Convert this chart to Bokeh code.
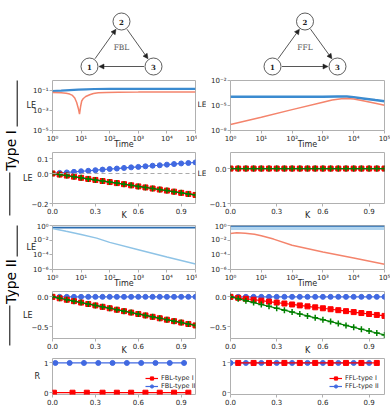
from math import pi
import numpy as np
from bokeh.plotting import figure
from bokeh.layouts import row, column
from bokeh.models import (Range1d, FixedTicker, CustomJSTickFormatter, Arrow,
                          NormalHead, Legend, LegendItem, Span)
from bokeh.embed import file_html
from bokeh.resources import INLINE
from bokeh.core.properties import value

# ---------------- data ----------------
# network motifs
node_x = [-1.0, 0.0, 1.0]
node_y = [0.0, 1.0, 0.0]
node_labels = ["1", "2", "3"]
fbl_edges = [(0, 1), (1, 2), (2, 0)]
ffl_edges = [(0, 1), (1, 2), (0, 2)]
motif_names = ["FBL", "FFL"]

# Type I : LE vs time
t_fbl1_blue = [1, 2, 4, 8, 15, 30, 100, 1e3, 1e4, 1e5]
le_fbl1_blue = [0.089, 0.095, 0.107, 0.120, 0.132, 0.141, 0.145, 0.145, 0.145, 0.145]
t_fbl1_red = [1, 2, 3, 4, 5, 6, 7, 8, 8.8, 9.6, 10.5, 12, 14.5, 20, 27, 40, 75, 200, 1e3, 1e4, 1e5]
le_fbl1_red = [0.063, 0.059, 0.052, 0.044, 0.032, 0.018, 0.0063, 0.0016, 0.00043, 0.0025, 0.0089,
               0.016, 0.025, 0.038, 0.050, 0.058, 0.063, 0.068, 0.069, 0.071, 0.071]
t_ffl1_blue = [1, 10, 100, 1e3, 3e3, 6e3, 1e4, 2e4, 5e4, 1e5]
le_ffl1_blue = [1.1e-4, 1.1e-4, 1.1e-4, 1.12e-4, 1.2e-4, 1.17e-4, 1.0e-4, 7.1e-5, 4.5e-5, 3.2e-5]
t_ffl1_red = [1, 10, 100, 1e3, 2e3, 4e3, 6e3, 1e4, 2e4, 5e4, 1e5]
le_ffl1_red = [5.2e-8, 4.0e-7, 3.2e-6, 2.5e-5, 4.5e-5, 6.6e-5, 7.1e-5, 6.0e-5, 3.8e-5, 1.9e-5, 1.07e-5]

# Type II : LE vs time
t_fbl2_dark = [1, 1e5]
le_fbl2_dark = [0.52, 0.52]
t_fbl2_light = [1, 3, 10, 35, 100, 1e3, 1e4, 1e5]
le_fbl2_light = [0.40, 0.16, 0.060, 0.019, 5.0e-3, 5.0e-4, 5.0e-5, 5.8e-6]
t_ffl2_dark = [1, 1e5]
le_ffl2_dark = [0.83, 0.83]
t_ffl2_band = [1, 1e5]
le_ffl2_band = [0.45, 0.45]
t_ffl2_red = [1, 1.6, 3, 6, 10, 25, 100, 1e3, 1e4, 1e5]
le_ffl2_red = [0.079, 0.10, 0.089, 0.063, 0.040, 0.014, 2.0e-3, 2.5e-4, 3.8e-5, 5.2e-6]

# LE vs coupling K
K = [0.0, 0.05, 0.1, 0.15, 0.2, 0.25, 0.3, 0.35, 0.4, 0.45, 0.5,
     0.55, 0.6, 0.65, 0.7, 0.75, 0.8, 0.85, 0.9, 0.95, 1.0]
zeros21 = [0.0] * 21
fbl1_blue = [0.0, 0.004, 0.007, 0.011, 0.015, 0.018, 0.022, 0.026, 0.030, 0.033, 0.037,
             0.041, 0.044, 0.048, 0.052, 0.055, 0.059, 0.063, 0.067, 0.070, 0.074]
fbl1_red = [0.0, -0.007, -0.014, -0.021, -0.029, -0.036, -0.043, -0.050, -0.057, -0.064, -0.071,
            -0.079, -0.086, -0.093, -0.100, -0.107, -0.114, -0.121, -0.129, -0.136, -0.143]
fbl1_green = fbl1_red
ffl1_blue = zeros21
ffl1_red = zeros21
ffl1_green = zeros21
fbl2_blue = zeros21
fbl2_red = [0.0, -0.024, -0.048, -0.072, -0.096, -0.120, -0.144, -0.168, -0.192, -0.216, -0.240,
            -0.264, -0.288, -0.312, -0.336, -0.360, -0.384, -0.408, -0.432, -0.456, -0.480]
fbl2_green = fbl2_red
ffl2_blue = zeros21
ffl2_red = [0.0, -0.016, -0.032, -0.048, -0.064, -0.080, -0.096, -0.112, -0.128, -0.144, -0.160,
            -0.176, -0.192, -0.208, -0.224, -0.240, -0.256, -0.272, -0.288, -0.304, -0.320]
ffl2_green = [0.0, -0.032, -0.064, -0.096, -0.128, -0.160, -0.192, -0.224, -0.256, -0.288, -0.320,
              -0.352, -0.384, -0.416, -0.448, -0.480, -0.512, -0.544, -0.576, -0.608, -0.640]

# R vs K
kr_fbl_red = [0.01, 0.14, 0.24, 0.35, 0.45, 0.55, 0.65, 0.75, 0.85, 0.95]
r_fbl_red = [0] * 10
kr_fbl_blue = [0.02, 0.12, 0.22, 0.32, 0.42, 0.52, 0.62, 0.72, 0.82, 0.92]
r_fbl_blue = [1] * 10
kr_ffl_red = [0.05, 0.15, 0.25, 0.35, 0.45, 0.55, 0.65, 0.75, 0.85, 0.95]
r_ffl_red = [1] * 10
kr_ffl_blue = [0.0, 0.1, 0.2, 0.3, 0.4, 0.5, 0.6, 0.7, 0.8, 0.9]
r_ffl_blue = [1] * 10

time_ticks = [1, 10, 100, 1e3, 1e4, 1e5]
k_ticks = [0.0, 0.3, 0.6, 0.9]
group_names = ["Type I", "Type II"]

# ---------------- style ----------------
FONT = "DejaVu Sans"
SPINE = "#b0b0b0"
TXT = "#262626"
C_BLUE = "#3b8bd0"
C_SALMON = "#f4846c"
C_DARK = "#2a6cb0"
C_LIGHT = "#8ec3e6"
C_BAND = "#b0d4ef"
M_BLUE = "#4169e1"
M_RED = "#ff0000"
M_GREEN = "#008000"

LOG_FMT = CustomJSTickFormatter(code="""
const m = {"-":"\u207b","0":"\u2070","1":"\u00b9","2":"\u00b2","3":"\u00b3","4":"\u2074",
           "5":"\u2075","6":"\u2076","7":"\u2077","8":"\u2078","9":"\u2079"};
const e = Math.round(Math.log10(tick));
return "10" + String(e).split("").map(c => m[c]).join("");
""")
LIN_FMT = CustomJSTickFormatter(code='return tick.toFixed(1).replace("-", "\u2212");')
INT_FMT = CustomJSTickFormatter(code='return tick.toFixed(0);')


def panel(w, h, bl, br, bt, bb, xr, yr, xlog, ylog, xticks, yticks, xfmt, yfmt,
          xlabel=None, ylabel=None, ystand=0):
    p = figure(width=w, height=h, output_backend="svg", toolbar_location=None,
               x_axis_type="log" if xlog else "linear",
               y_axis_type="log" if ylog else "linear",
               x_range=Range1d(*xr), y_range=Range1d(*yr),
               min_border_left=bl, min_border_right=br,
               min_border_top=bt, min_border_bottom=bb)
    p.xgrid.visible = False
    p.ygrid.visible = False
    p.outline_line_color = SPINE
    p.outline_line_width = 1
    for ax, ticks, fmt in ((p.xaxis[0], xticks, xfmt), (p.yaxis[0], yticks, yfmt)):
        ax.ticker = FixedTicker(ticks=ticks, minor_ticks=[])
        ax.formatter = fmt
        ax.axis_line_color = None
        ax.major_tick_line_color = SPINE
        ax.minor_tick_line_color = None
        ax.major_tick_in = 0
        ax.major_tick_out = 3
        ax.major_label_standoff = 1
        ax.major_label_text_font = FONT
        ax.major_label_text_font_size = "7px"
        ax.major_label_text_color = TXT
        ax.axis_label_text_font = FONT
        ax.axis_label_text_font_size = "8px"
        ax.axis_label_text_font_style = "normal"
        ax.axis_label_text_color = TXT
    if xlabel:
        p.xaxis[0].axis_label = xlabel
        p.xaxis[0].axis_label_standoff = -6
    if ylabel:
        p.yaxis[0].axis_label = ylabel
        p.yaxis[0].axis_label_orientation = "horizontal"
        p.yaxis[0].axis_label_standoff = ystand
    return p


def k_series(p, ks, blue, red, green):
    p.line(ks, blue, line_color=M_BLUE, line_width=1.2)
    p.scatter(ks, blue, marker="circle", size=5, fill_color=M_BLUE, line_color=M_BLUE)
    p.line(ks, red, line_color=M_RED, line_width=1.2)
    p.scatter(ks, red, marker="square", size=5, fill_color=M_RED, line_color=M_RED)
    p.line(ks, green, line_color=M_GREEN, line_width=1.2)
    p.scatter(ks, green, marker="cross", size=6, line_color=M_GREEN, line_width=1.5)


# layout sizes (pixels)
SW = 19                    # strip with the Type labels
GW = 9                     # gutter holding the right-hand "LE" labels
LW, RW = 178, 184          # left / right plot columns
LOG_BL, LIN_BL, L_BR = 24, 28, 2
R_BL, R_BR = 21, 6
PH = 331                   # height of the plot block
T_RANGE = (1, 1e5)
K_RANGE = (0, 1)

# ---------------- diagrams ----------------
def diagram(w, x0, x1, edges, name, pxu):
    p = figure(width=w, height=76, output_backend="svg", toolbar_location=None,
               x_range=Range1d(x0, x1), y_range=Range1d(-0.2222, 1.4667), min_border=0,
               x_axis_location=None, y_axis_location=None)
    p.grid.visible = False
    p.outline_line_color = None
    pyu = 45.0
    r = 9.5
    for a, b in edges:
        dx = (node_x[b] - node_x[a]) * pxu
        dy = (node_y[b] - node_y[a]) * pyu
        f = r / np.hypot(dx, dy)
        xs = node_x[a] + (node_x[b] - node_x[a]) * f
        ys = node_y[a] + (node_y[b] - node_y[a]) * f
        xe = node_x[b] - (node_x[b] - node_x[a]) * f
        ye = node_y[b] - (node_y[b] - node_y[a]) * f
        p.add_layout(Arrow(end=NormalHead(size=5, fill_color="#222222", line_color="#222222",
                                          line_width=0.5),
                           x_start=xs, y_start=ys, x_end=xe, y_end=ye,
                           line_color="#444444", line_width=0.9))
    p.scatter(node_x, node_y, marker="circle", size=17, fill_color="white",
              line_color="#333333", line_width=0.8)
    p.text(node_x, node_y, text=node_labels, text_font=value("DejaVu Serif"),
           text_font_style="bold", text_font_size="7px", text_align="center",
           text_baseline="middle", text_color="#222222")
    p.text([0.0], [0.42], text=[name], text_font=value("DejaVu Serif"),
           text_font_size="7.5px", text_align="center", text_baseline="middle",
           text_color="#555555")
    return p


dl = diagram(SW + LW, -3.781, 2.375, fbl_edges, motif_names[0], 32.0)
dr = diagram(GW + RW, -3.308, 2.631, ffl_edges, motif_names[1], 32.5)

# ---------------- row A : Type I, LE vs time ----------------
aL = panel(LW, 75, LOG_BL, L_BR, 4, 15, T_RANGE, (1e-5, 1.0), True, True,
           time_ticks, [1e-5, 1e-3, 1e-1], LOG_FMT, LOG_FMT, "Time", "LE", -6)
aL.line(t_fbl1_blue, le_fbl1_blue, line_color=C_BLUE, line_width=2.2)
aL.line(t_fbl1_red, le_fbl1_red, line_color=C_SALMON, line_width=1.5)

aR = panel(RW, 75, R_BL, R_BR, 4, 15, T_RANGE, (1e-8, 1e-2), True, True,
           time_ticks, [1e-8, 1e-5, 1e-2], LOG_FMT, LOG_FMT, "Time")
aR.line(t_ffl1_blue, le_ffl1_blue, line_color=C_BLUE, line_width=2.5)
aR.line(t_ffl1_red, le_ffl1_red, line_color=C_SALMON, line_width=1.5)

# ---------------- row B : Type I, LE vs K ----------------
bL = panel(LW, 71, LIN_BL, L_BR, 1, 16, K_RANGE, (-0.2, 0.14), False, False,
           k_ticks, [-0.2, 0.0, 0.1], LIN_FMT, LIN_FMT, "K", "LE", -4)
bL.add_layout(Span(location=0, dimension="width", line_color="#aaaaaa",
                   line_dash="4 3", line_width=1))
k_series(bL, K, fbl1_blue, fbl1_red, fbl1_green)

bR = panel(RW, 71, R_BL, R_BR, 1, 16, K_RANGE, (-0.1, 0.046), False, False,
           k_ticks, [-0.1, 0.0], LIN_FMT, LIN_FMT, "K")
k_series(bR, K, ffl1_blue, ffl1_red, ffl1_green)

# ---------------- row C : Type II, LE vs time ----------------
cL = panel(LW, 68, LOG_BL, L_BR, 3, 16, T_RANGE, (1e-6, 1.0), True, True,
           time_ticks, [1e-6, 1e-4, 1e-2, 1.0], LOG_FMT, LOG_FMT, "Time", "LE", -6)
cL.line(t_fbl2_dark, le_fbl2_dark, line_color=C_DARK, line_width=1.6)
cL.line(t_fbl2_light, le_fbl2_light, line_color=C_LIGHT, line_width=1.5)

cR = panel(RW, 68, R_BL, R_BR, 3, 16, T_RANGE, (1e-6, 1.0), True, True,
           time_ticks, [1e-6, 1e-4, 1e-2, 1.0], LOG_FMT, LOG_FMT, "Time")
cR.line(t_ffl2_band, le_ffl2_band, line_color=C_BAND, line_width=4)
cR.line(t_ffl2_dark, le_ffl2_dark, line_color=C_DARK, line_width=1.4)
cR.line(t_ffl2_red, le_ffl2_red, line_color=C_SALMON, line_width=1.5)

# ---------------- row D : Type II, LE vs K ----------------
dL = panel(LW, 67, LIN_BL, L_BR, 1, 16, K_RANGE, (-0.7, 0.09), False, False,
           k_ticks, [-0.5, 0.0], LIN_FMT, LIN_FMT, "K", "LE", -4)
k_series(dL, K, fbl2_blue, fbl2_red, fbl2_green)

dR = panel(RW, 67, R_BL, R_BR, 1, 16, K_RANGE, (-0.7, 0.09), False, False,
           k_ticks, [-0.5, 0.0], LIN_FMT, LIN_FMT, "K")
k_series(dR, K, ffl2_blue, ffl2_red, ffl2_green)

# ---------------- row E : R vs K ----------------
def r_panel(w, bl, br, kb, rb, kr, rr, names, loc, ylabel=None):
    p = panel(w, 50, bl, br, 1, 13, K_RANGE, (-0.06, 1.15), False, False,
              k_ticks, [0, 1], LIN_FMT, INT_FMT, None, ylabel, 1)
    lb = p.line(kb, rb, line_color=M_BLUE, line_width=1.2)
    sb = p.scatter(kb, rb, marker="circle", size=5, fill_color=M_BLUE, line_color=M_BLUE)
    lr = p.line(kr, rr, line_color=M_RED, line_width=1.2)
    sr = p.scatter(kr, rr, marker="square", size=5, fill_color=M_RED, line_color=M_RED)
    lg = Legend(items=[LegendItem(label=names[0], renderers=[lr, sr]),
                       LegendItem(label=names[1], renderers=[lb, sb])],
                location=loc, padding=2, spacing=0, margin=0, label_height=8,
                glyph_height=8, glyph_width=13, label_standoff=3,
                label_text_font=FONT, label_text_font_size="6.5px",
                label_text_color=TXT, border_line_color=None,
                background_fill_alpha=0.0)
    p.add_layout(lg)
    return p


eL = r_panel(LW, LIN_BL, L_BR, kr_fbl_blue, r_fbl_blue, kr_fbl_red, r_fbl_red,
             ["FBL-type I", "FBL-type II"], (93, 4), "R")
eR = r_panel(RW, R_BL, R_BR, kr_ffl_blue, r_ffl_blue, kr_ffl_red, r_ffl_red,
             ["FFL-type I", "FFL-type II"], (99, 4))


# ---------------- side strips (group labels, right-hand LE) ----------------
def blank(w, x0):
    p = figure(width=w, height=PH, output_backend="svg", toolbar_location=None,
               x_range=Range1d(x0, x0 + w), y_range=Range1d(-407, -76), min_border=0,
               x_axis_location=None, y_axis_location=None)
    p.grid.visible = False
    p.outline_line_color = None
    return p


strip = blank(SW, 0)
strip.segment(x0=[16.7, 9.3, 16.7, 9.3], y0=[-80, -172, -225, -305],
              x1=[16.7, 9.3, 16.7, 9.3], y1=[-126, -215, -256, -345],
              line_color="black", line_width=1)
strip.text([10, 10], [-150, -281], text=group_names, angle=pi / 2,
           text_font=value(FONT), text_font_size="14px", text_align="center",
           text_baseline="middle", text_color="black")

gutter = blank(GW, SW + LW)
gutter.text([SW + LW + GW, SW + LW + GW], [-104, -173], text=["LE", "LE"],
            text_font=value(FONT), text_font_size="7.5px", text_align="right",
            text_baseline="middle", text_color=TXT)

left_col = column(aL, bL, cL, dL, eL)
right_col = column(aR, bR, cR, dR, eR)
layout = column(row(dl, dr), row(strip, left_col, gutter, right_col))

open("out.html", "w").write(file_html(layout, INLINE))
